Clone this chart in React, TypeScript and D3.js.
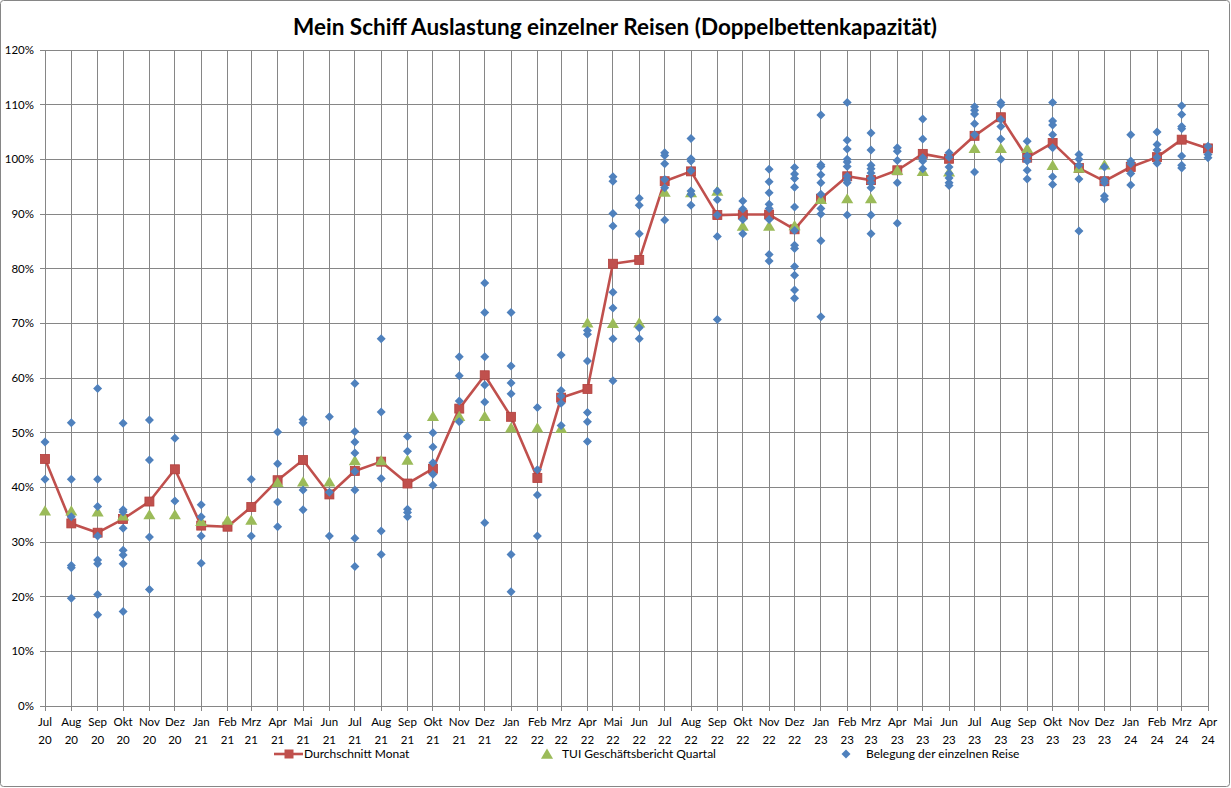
import React from "react";
import * as d3 from "d3";

// Monatsnamen für die Achse
const monthNames = ["Jan", "Feb", "Mrz", "Apr", "Mai", "Jun", "Jul", "Aug", "Sep", "Okt", "Nov", "Dez"];

const months: Date[] = d3.timeMonth.range(new Date(2020, 6, 1), new Date(2024, 4, 1));

// Durchschnitt Monat (%)
const average = [
  45.2, 33.4, 31.7, 34.2, 37.4, 43.3,
  33.0, 32.8, 36.4, 41.3, 45.0, 38.7, 43.0, 44.7, 40.7, 43.4, 54.4, 60.5,
  52.9, 41.7, 56.4, 58.0, 80.9, 81.6, 96.0, 97.8, 89.8, 89.9, 89.9, 87.2,
  92.8, 96.9, 96.2, 98.0, 101.0, 100.1, 104.3, 107.7, 100.3, 103.0, 98.4, 96.0,
  98.6, 100.4, 103.6, 102.0,
];

// TUI Geschäftsbericht Quartal (%)
const quarterly: (number | null)[] = [
  35.7, 35.7, 35.5, 34.8, 35.0, 35.0,
  33.8, 34.0, 34.0, 40.9, 41.0, 41.0, 44.9, 44.9, 45.0, 53.0, 53.0, 53.0,
  50.9, 50.9, 50.8, 70.1, 70.0, 70.1, 94.0, 93.9, 94.2, 87.8, 87.8, 87.9,
  92.7, 92.8, 92.8, 98.0, 97.8, 97.7, 102.0, 102.0, 102.0, 98.9, 98.4, 99.0,
  null, null, null, null,
];

// Belegung der einzelnen Reise (%), je Monat
const trips: number[][] = [
  [48.3, 41.5],
  [51.8, 41.5, 34.6, 25.7, 25.3, 19.7],
  [58.1, 41.5, 36.5, 31.1, 26.7, 26.0, 20.4, 16.7],
  [51.7, 35.9, 35.5, 32.5, 28.5, 27.6, 26.0, 17.3],
  [52.3, 45.0, 30.9, 21.3],
  [49.0, 37.5],
  [36.8, 34.6, 31.1, 26.1],
  [],
  [41.5, 31.1],
  [50.1, 44.3, 37.3, 32.8],
  [52.4, 51.8, 39.5, 35.9],
  [52.9, 39.1, 31.1],
  [59.0, 50.2, 48.3, 46.3, 42.9, 39.5, 30.7, 25.5],
  [67.2, 53.8, 41.6, 32.0, 27.7],
  [49.3, 46.6, 36.0, 35.4, 34.6],
  [50.0, 47.4, 44.5, 42.4, 40.4],
  [63.9, 60.4, 55.8, 52.0],
  [77.4, 72.0, 63.9, 58.7, 55.6, 33.5],
  [72.0, 62.2, 59.1, 57.1, 27.7, 20.9],
  [54.6, 43.2, 38.6, 31.1],
  [64.2, 57.7, 56.7, 55.4, 51.3],
  [68.7, 68.0, 63.1, 53.7, 52.0, 48.4],
  [96.8, 96.0, 90.1, 87.8, 75.7, 72.8, 67.2, 59.5],
  [92.9, 91.6, 86.4, 69.2, 67.2],
  [101.2, 100.7, 99.2, 96.3, 94.8, 88.9],
  [103.8, 100.1, 99.7, 97.9, 94.2, 93.6, 91.6],
  [94.2, 92.6, 89.8, 85.9, 70.7],
  [92.4, 90.9, 89.0, 86.4],
  [98.2, 95.9, 93.9, 91.8, 91.0, 89.0, 82.6, 81.4],
  [98.5, 97.3, 96.5, 94.9, 91.3, 87.0, 84.3, 83.7, 80.4, 78.8, 76.1, 74.6],
  [108.1, 99.0, 98.7, 97.2, 95.7, 93.6, 91.0, 90.0, 85.1, 71.2],
  [110.4, 103.5, 101.9, 100.0, 99.5, 98.7, 96.9, 96.2, 95.7, 89.8],
  [104.8, 101.7, 98.9, 98.3, 97.5, 96.5, 95.7, 94.8, 89.8, 86.4],
  [102.1, 101.5, 99.8, 95.7, 88.3],
  [107.4, 103.7, 100.3, 99.7, 98.3],
  [101.2, 100.4, 98.6, 97.4, 96.6, 95.7, 95.2],
  [109.6, 109.0, 108.3, 106.5, 104.5, 97.7],
  [110.4, 110.0, 107.3, 106.0, 103.7, 100.0],
  [103.3, 100.6, 99.7, 98.0, 96.4],
  [110.4, 107.0, 106.3, 104.5, 102.1, 96.8, 95.4],
  [100.9, 100.0, 98.9, 96.4, 86.9],
  [98.6, 96.2, 95.7, 93.3, 92.7],
  [104.5, 99.7, 99.2, 97.4, 95.3],
  [105.0, 102.7, 101.7, 100.4, 99.3],
  [109.8, 108.2, 106.0, 105.6, 100.6, 98.9, 98.4],
  [102.4, 100.9, 100.3],
];

const yTicks = d3.range(0, 121, 10);

const width = 1231;
const height = 788;
const marginLeft = 45;
const marginRight = 23;
const marginTop = 50;
const marginBottom = 82;

const grid = "#868686";
const red = "#C0504D";
const green = "#9BBB59";
const blue = "#4F81BD";
const font = "Lato, 'Open Sans', sans-serif";

const diamond = (r: number) => `M0,${-r}L${r},0L0,${r}L${-r},0Z`;
const triangle = (r: number) => `M0,${-r}L${r * 1.1},${r * 0.85}L${-r * 1.1},${r * 0.85}Z`;

const App = (): React.JSX.Element => {
  const x = d3.scaleTime([months[0], months[months.length - 1]], [marginLeft, width - marginRight]);
  const y = d3.scaleLinear([0, 120], [height - marginBottom, marginTop]);

  const line = d3.line<number>((_d, i) => x(months[i]), (d) => y(d));

  const y0 = y(0);
  const xRight = width - marginRight;

  return (
    <div style={{ position: "absolute", left: 0, top: 0 }}>
      <svg width={width} height={height} style={{ display: "block", fontFamily: font }}>
        <rect x={0.5} y={0.5} width={width - 2} height={height - 2} rx={3} fill="#fff" stroke={grid} />
        <text x={615} y={35} textAnchor="middle" fontSize={22.5} fontWeight="bold" fill="#000">
          Mein Schiff Auslastung einzelner Reisen (Doppelbettenkapazität)
        </text>

        {/* Gitterlinien */}
        <g stroke={grid} strokeWidth={1} shapeRendering="crispEdges">
          {yTicks.map((t) => (
            <line key={"h" + t} x1={marginLeft - 5} x2={xRight} y1={y(t)} y2={y(t)} />
          ))}
          {months.map((m, i) => (
            <line key={"v" + i} x1={x(m)} x2={x(m)} y1={marginTop} y2={y0 + 5} />
          ))}
        </g>

        {/* y-Achse */}
        <g fontSize={11.5} fill="#000" textAnchor="end">
          {yTicks.map((t) => (
            <text key={t} x={34} y={y(t) + 4}>
              {t}%
            </text>
          ))}
        </g>

        {/* x-Achse */}
        <g fontSize={11.5} fill="#000" textAnchor="middle">
          {months.map((m, i) => (
            <text key={i} x={x(m)} y={y0 + 20}>
              <tspan x={x(m)}>{monthNames[m.getMonth()]}</tspan>
              <tspan x={x(m)} dy={18}>
                {String(m.getFullYear()).slice(2)}
              </tspan>
            </text>
          ))}
        </g>

        {/* Durchschnitt Monat */}
        <path d={line(average) as string} fill="none" stroke={red} strokeWidth={2.6} strokeLinejoin="round" />
        <g fill={red} stroke="#B3403D" strokeWidth={0.8}>
          {average.map((d, i) => (
            <rect key={i} x={x(months[i]) - 4.5} y={y(d) - 4.5} width={9} height={9} />
          ))}
        </g>

        {/* TUI Geschäftsbericht Quartal */}
        <g fill={green}>
          {quarterly.map((d, i) =>
            d === null ? null : (
              <path key={i} d={triangle(5.5)} transform={`translate(${x(months[i])},${y(d)})`} />
            )
          )}
        </g>

        {/* Belegung der einzelnen Reise */}
        <g fill={blue}>
          {trips.map((vals, i) =>
            vals.map((v, j) => (
              <path key={i + "-" + j} d={diamond(4.5)} transform={`translate(${x(months[i])},${y(v)})`} />
            ))
          )}
        </g>

        {/* Legende */}
        <g fontSize={12} fill="#000">
          <line x1={274} x2={303} y1={754} y2={754} stroke={red} strokeWidth={2.6} />
          <rect x={284.5} y={749.5} width={9} height={9} fill={red} />
          <text x={304} y={758}>Durchschnitt Monat</text>
          <path d={triangle(5.5)} transform="translate(547,754)" fill={green} />
          <text x={562} y={758}>TUI Geschäftsbericht Quartal</text>
          <path d={diamond(4.5)} transform="translate(846,754)" fill={blue} />
          <text x={866} y={758}>Belegung der einzelnen Reise</text>
        </g>
      </svg>
    </div>
  );
};

export default App;
